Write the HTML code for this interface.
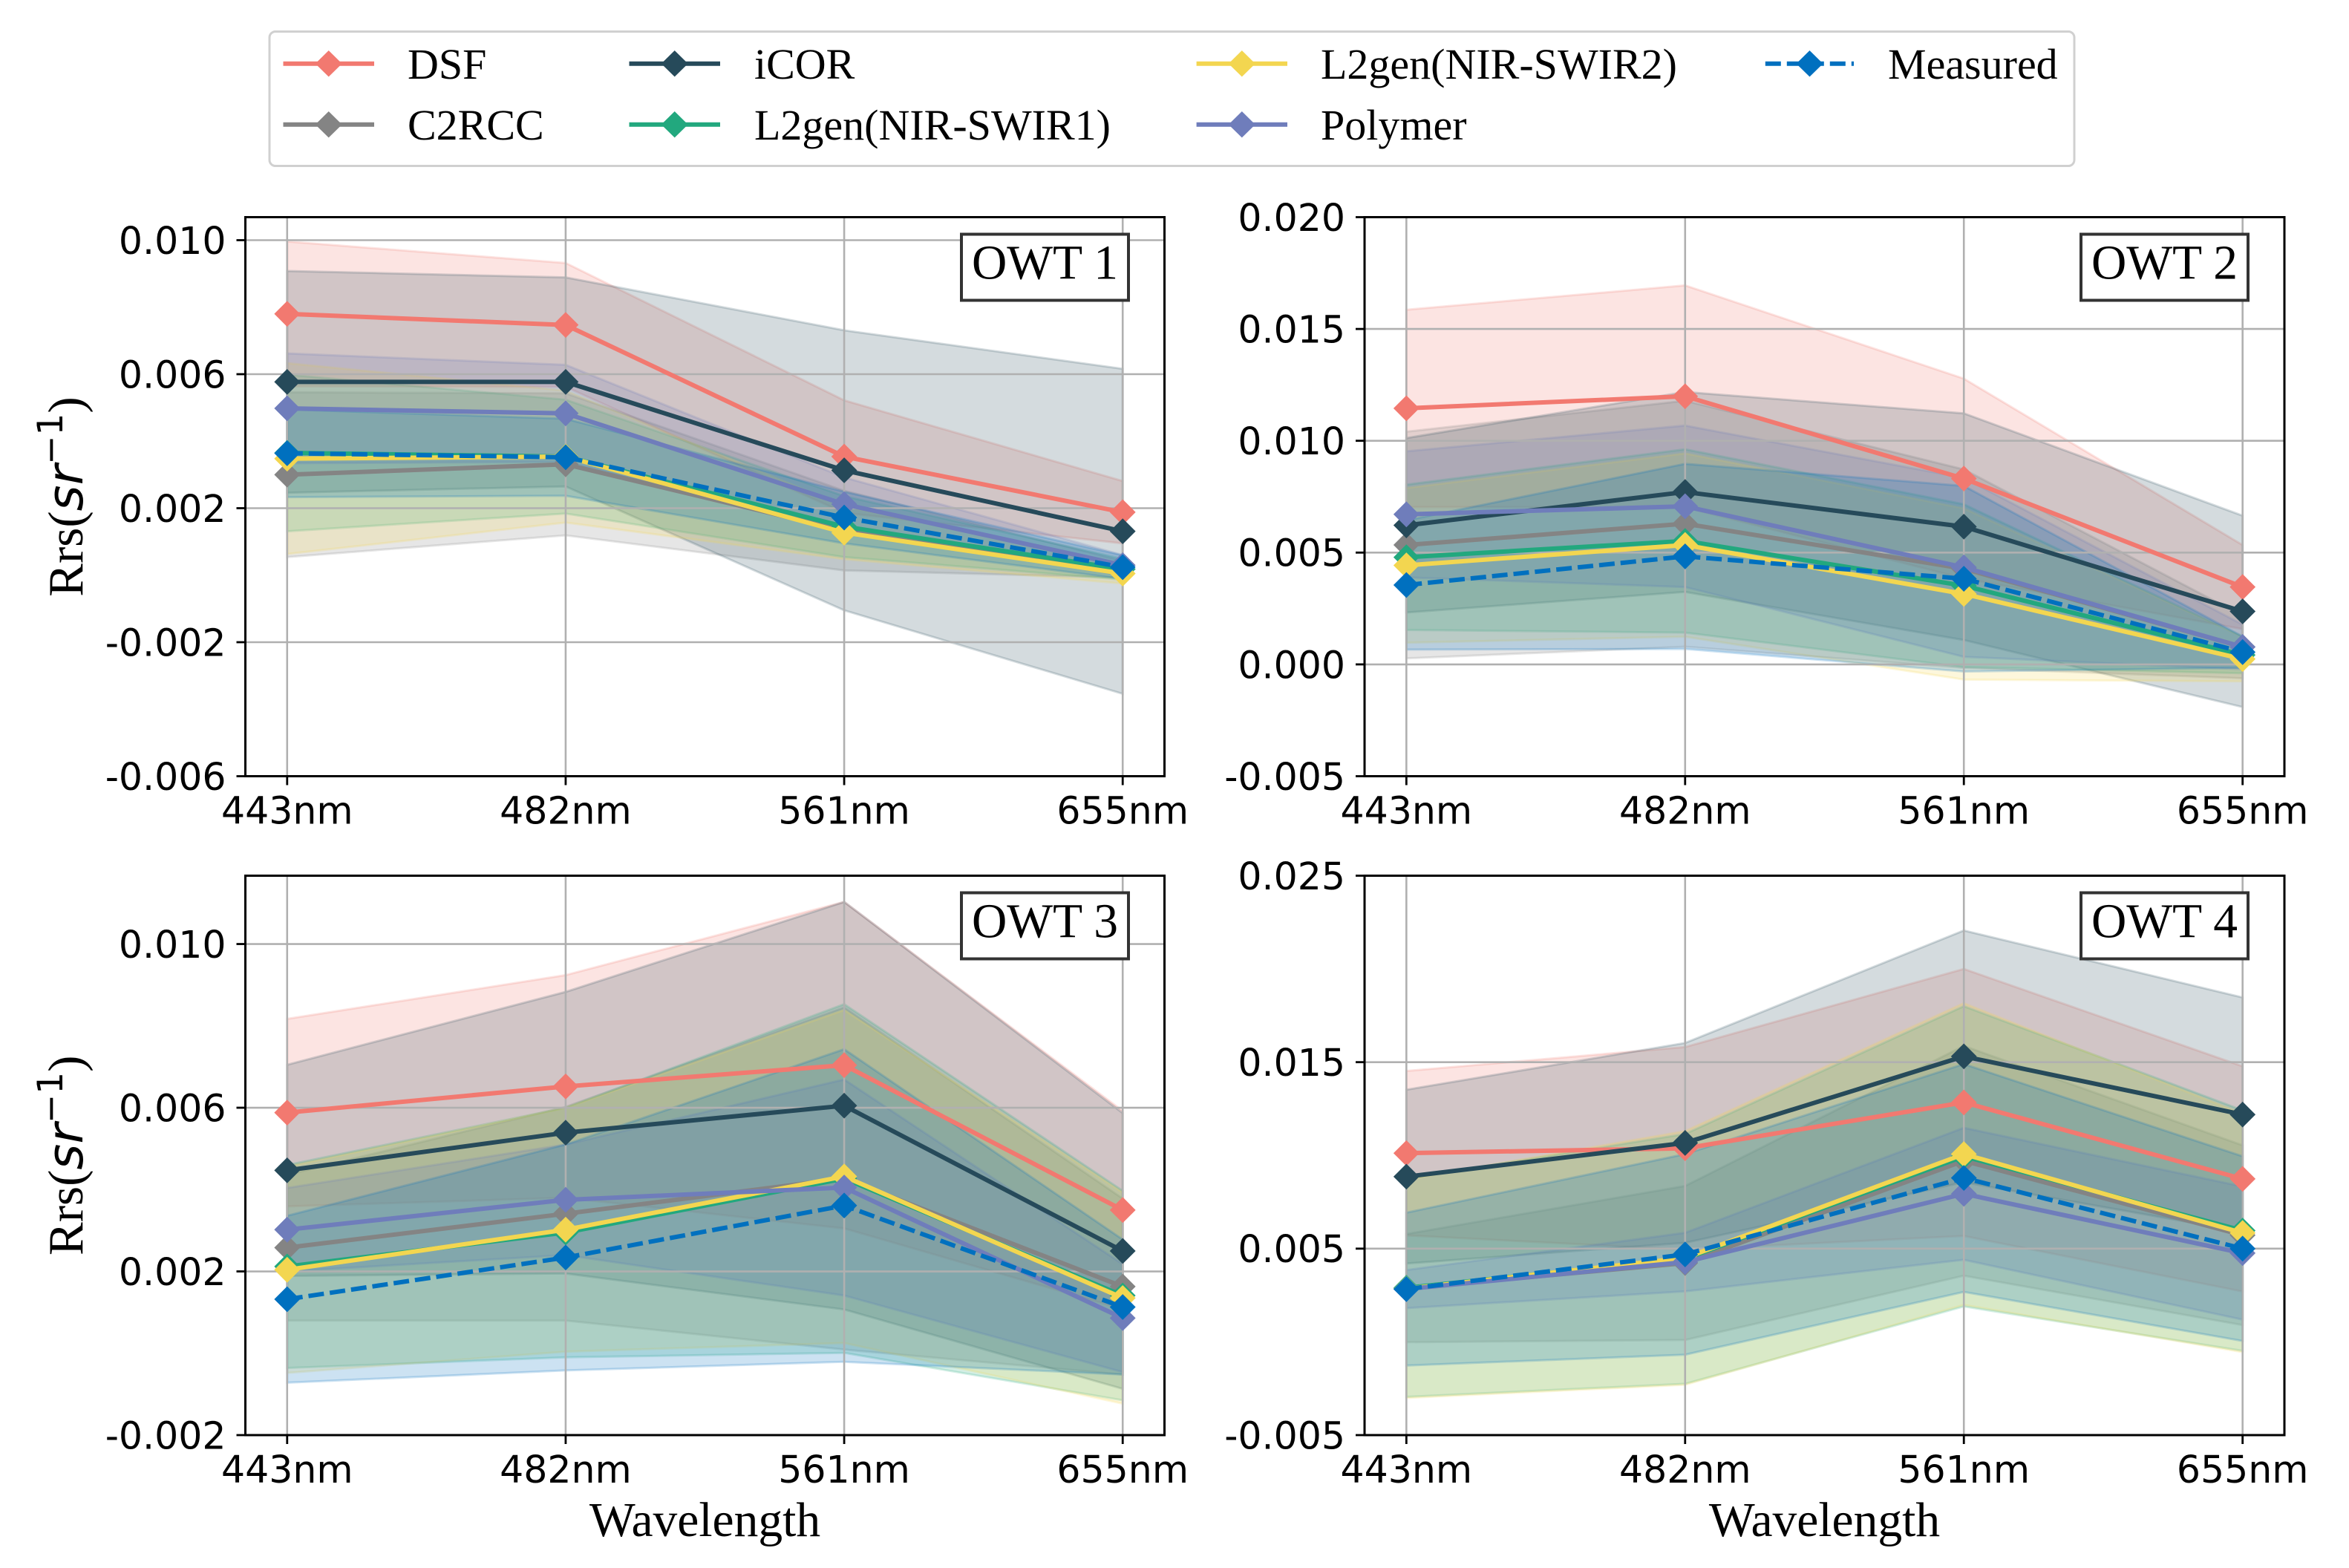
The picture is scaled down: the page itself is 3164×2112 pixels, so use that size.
<!DOCTYPE html>
<html lang="en">
<head>
<meta charset="utf-8">
<title>Rrs spectra by optical water type</title>
<style>
html,body{margin:0;padding:0;background:#fff;width:3164px;height:2112px;overflow:hidden}
svg{display:block}
.serif{font-family:"Liberation Serif",serif}
.sans{font-family:"DejaVu Sans",sans-serif}
</style>
</head>
<body>
<svg id="chart" xmlns="http://www.w3.org/2000/svg" width="3164" height="2112" viewBox="0 0 3164 2112">
  <rect x="0" y="0" width="3164" height="2112" fill="#fff"/>
  <g id="panels"></g>
  <g>
    <rect x="363" y="42.5" width="2431" height="181" rx="8" ry="8" fill="#fff" stroke="#d0d0d0" stroke-width="3"/>
    <g>
      <line x1="381.5" x2="504" y1="85.7" y2="85.7" stroke="#F27970" stroke-width="6"/>
      <polygon points="442.7,68 460.7,85.7 442.7,103.4 424.7,85.7" fill="#F27970"/>
      <text class="serif" x="549" y="106" font-size="58">DSF</text>
    </g>
    <g>
      <line x1="381.5" x2="504" y1="167.7" y2="167.7" stroke="#848484" stroke-width="6"/>
      <polygon points="442.7,150 460.7,167.7 442.7,185.4 424.7,167.7" fill="#848484"/>
      <text class="serif" x="549" y="188" font-size="58">C2RCC</text>
    </g>
    <g>
      <line x1="847.5" x2="970" y1="85.7" y2="85.7" stroke="#264A5A" stroke-width="6"/>
      <polygon points="908.7,68 926.7,85.7 908.7,103.4 890.7,85.7" fill="#264A5A"/>
      <text class="serif" x="1016" y="106" font-size="58">iCOR</text>
    </g>
    <g>
      <line x1="847.5" x2="970" y1="167.7" y2="167.7" stroke="#22A87E" stroke-width="6"/>
      <polygon points="908.7,150 926.7,167.7 908.7,185.4 890.7,167.7" fill="#22A87E"/>
      <text class="serif" x="1016" y="188" font-size="58">L2gen(NIR-SWIR1)</text>
    </g>
    <g>
      <line x1="1611.6" x2="1734" y1="85.7" y2="85.7" stroke="#F3D650" stroke-width="6"/>
      <polygon points="1672.8,68 1690.8,85.7 1672.8,103.4 1654.8,85.7" fill="#F3D650"/>
      <text class="serif" x="1779" y="106" font-size="58">L2gen(NIR-SWIR2)</text>
    </g>
    <g>
      <line x1="1611.6" x2="1734" y1="167.7" y2="167.7" stroke="#6F7DBB" stroke-width="6"/>
      <polygon points="1672.8,150 1690.8,167.7 1672.8,185.4 1654.8,167.7" fill="#6F7DBB"/>
      <text class="serif" x="1779" y="188" font-size="58">Polymer</text>
    </g>
    <g>
      <line x1="2377.8" x2="2497" y1="85.7" y2="85.7" stroke="#0070BF" stroke-width="6" stroke-dasharray="21 8"/>
      <polygon points="2437.5,68 2455.5,85.7 2437.5,103.4 2419.5,85.7" fill="#0070BF"/>
      <text class="serif" x="2543" y="106" font-size="58">Measured</text>
    </g>
  </g>
</svg>
<script>
// ---- shared categories and series names ----
const categories = ["443nm", "482nm", "561nm", "655nm"];
const seriesKeys = ["dsf", "c2rcc", "icor", "l2gen-nir-swir1", "l2gen-nir-swir2", "polymer", "measured"];
const seriesColors = ["#F27970", "#848484", "#264A5A", "#22A87E", "#F3D650", "#6F7DBB", "#0070BF"];

// ---- OWT 1 ----
const owt1Ticks = ["-0.006", "-0.002", "0.002", "0.006", "0.010"];
const owt1Range = [-0.006, 0.010687];
const owt1Dsf = [0.0078, 0.00747, 0.00354, 0.00188];
const owt1DsfStd = [0.00216, 0.00185, 0.00168, 0.00093];
const owt1C2rcc = [0.003, 0.00331, 0.00133, 0.00018];
const owt1C2rccStd = [0.00246, 0.00212, 0.00119, 0.00025];
const owt1Icor = [0.00577, 0.00577, 0.00313, 0.00131];
const owt1IcorStd = [0.00331, 0.00312, 0.00418, 0.00485];
const owt1Swir1 = [0.00365, 0.00354, 0.00145, 0.00018];
const owt1Swir1Std = [0.00234, 0.0017, 0.00091, 0.00031];
const owt1Swir2 = [0.00348, 0.00354, 0.00127, 0.00005];
const owt1Swir2Std = [0.00285, 0.00197, 0.00079, 0.0003];
const owt1Polymer = [0.00498, 0.00483, 0.00212, 0.0003];
const owt1PolymerStd = [0.00164, 0.00145, 0.0008, 0.0003];
const owt1Measured = [0.00364, 0.00352, 0.00172, 0.00024];
const owt1MeasuredStd = [0.00131, 0.00115, 0.00077, 0.00035];

// ---- OWT 2 ----
const owt2Ticks = ["-0.005", "0.000", "0.005", "0.010", "0.015", "0.020"];
const owt2Range = [-0.005, 0.020];
const owt2Dsf = [0.01145, 0.01199, 0.00831, 0.00346];
const owt2DsfStd = [0.00441, 0.00496, 0.00447, 0.00188];
const owt2C2rcc = [0.00534, 0.00629, 0.00428, 0.00078];
const owt2C2rccStd = [0.00507, 0.0055, 0.00444, 0.0014];
const owt2Icor = [0.00622, 0.00771, 0.00616, 0.00237];
const owt2IcorStd = [0.0039, 0.00447, 0.00507, 0.00428];
const owt2Swir1 = [0.00479, 0.00552, 0.00352, 0.00042];
const owt2Swir1Std = [0.00325, 0.0041, 0.00364, 0.00082];
const owt2Swir2 = [0.00443, 0.00534, 0.00315, 0.00024];
const owt2Swir2Std = [0.00346, 0.0041, 0.00383, 0.001];
const owt2Polymer = [0.00671, 0.00707, 0.00434, 0.00078];
const owt2PolymerStd = [0.00282, 0.00361, 0.004, 0.001];
const owt2Measured = [0.00355, 0.00483, 0.00383, 0.00055];
const owt2MeasuredStd = [0.00289, 0.00414, 0.00415, 0.0007];

// ---- OWT 3 ----
const owt3Ticks = ["-0.002", "0.002", "0.006", "0.010"];
const owt3Range = [-0.002, 0.01167];
const owt3Dsf = [0.00588, 0.00652, 0.00704, 0.0035];
const owt3DsfStd = [0.00229, 0.00272, 0.00399, 0.00242];
const owt3C2rcc = [0.00258, 0.00341, 0.00427, 0.00163];
const owt3C2rccStd = [0.00178, 0.00261, 0.00418, 0.00215];
const owt3Icor = [0.00447, 0.00539, 0.00605, 0.0025];
const owt3IcorStd = [0.00258, 0.00344, 0.00498, 0.00337];
const owt3Swir1 = [0.00212, 0.00295, 0.00427, 0.00141];
const owt3Swir1Std = [0.00248, 0.00305, 0.00426, 0.00256];
const owt3Swir2 = [0.00204, 0.00302, 0.00432, 0.00135];
const owt3Swir2Std = [0.00252, 0.00298, 0.00407, 0.00258];
const owt3Polymer = [0.00302, 0.00375, 0.00405, 0.00086];
const owt3PolymerStd = [0.00102, 0.00135, 0.00264, 0.00132];
const owt3Measured = [0.00132, 0.00234, 0.00361, 0.00113];
const owt3MeasuredStd = [0.00204, 0.00276, 0.00382, 0.00165];

// ---- OWT 4 ----
const owt4Ticks = ["-0.005", "0.005", "0.015", "0.025"];
const owt4Range = [-0.005, 0.025];
const owt4Dsf = [0.01012, 0.01038, 0.01284, 0.00874];
const owt4DsfStd = [0.00441, 0.00543, 0.00716, 0.00604];
const owt4C2rcc = [0.00288, 0.00423, 0.00971, 0.00572];
const owt4C2rccStd = [0.0029, 0.00413, 0.00616, 0.00482];
const owt4Icor = [0.00886, 0.01067, 0.01531, 0.01219];
const owt4IcorStd = [0.00466, 0.00536, 0.00675, 0.00628];
const owt4Swir1 = [0.0029, 0.00445, 0.00995, 0.00597];
const owt4Swir1Std = [0.00585, 0.0067, 0.00805, 0.00645];
const owt4Swir2 = [0.00285, 0.0045, 0.01007, 0.00584];
const owt4Swir2Std = [0.00586, 0.0068, 0.00809, 0.00639];
const owt4Polymer = [0.00283, 0.00428, 0.00794, 0.00476];
const owt4PolymerStd = [0.00102, 0.00157, 0.00354, 0.00357];
const owt4Measured = [0.00283, 0.00469, 0.00879, 0.005];
const owt4MeasuredStd = [0.0041, 0.00538, 0.00611, 0.00495];

const NS = "http://www.w3.org/2000/svg";
function mk(tag, attrs, parent) {
  const el = document.createElementNS(NS, tag);
  for (const k in attrs) el.setAttribute(k, attrs[k]);
  parent.appendChild(el);
  return el;
}

function drawPanel(cfg) {
  const root = document.getElementById("panels");
  const g = mk("g", {}, root);
  
  

  const xScale = i => cfg.left + (i + 0.15) / 3.3 * (cfg.right - cfg.left);
  const yScale = v => cfg.bottom - (v - cfg.range[0]) / (cfg.range[1] - cfg.range[0]) * (cfg.bottom - cfg.top);

  // shaded mean +/- std bands
  cfg.means.forEach((mean, s) => {
    const std = cfg.stds[s];
    const upper = mean.map((m, i) => xScale(i).toFixed(1) + "," + yScale(m + std[i]).toFixed(1));
    const lower = mean.map((m, i) => xScale(i).toFixed(1) + "," + yScale(m - std[i]).toFixed(1)).reverse();
    const band = mk("polygon", {
      points: upper.concat(lower).join(" "),
      fill: seriesColors[s], "fill-opacity": 0.2,
      stroke: seriesColors[s], "stroke-opacity": 0.2, "stroke-width": 3
    }, g);
    
    
  });

  // grid and ticks
  categories.forEach((cat, i) => {
    const x = xScale(i);
    const grid = mk("line", { x1: x, x2: x, y1: cfg.top, y2: cfg.bottom, stroke: "#b0b0b0", "stroke-width": 2.6 }, g);
    
    
    const tick = mk("line", { x1: x, x2: x, y1: cfg.bottom, y2: cfg.bottom + 12, stroke: "#000", "stroke-width": 2.8 }, g);
    
    
    const label = mk("text", { x: x, y: cfg.bottom + 64, "text-anchor": "middle", "font-size": 50.5, class: "sans" }, g);
    
    
    label.textContent = cat;
  });
  cfg.ticks.forEach(t => {
    const y = yScale(Number(t));
    const grid = mk("line", { x1: cfg.left, x2: cfg.right, y1: y, y2: y, stroke: "#b0b0b0", "stroke-width": 2.6 }, g);
    
    
    const tick = mk("line", { x1: cfg.left - 12, x2: cfg.left, y1: y, y2: y, stroke: "#000", "stroke-width": 2.8 }, g);
    
    
    const label = mk("text", { x: cfg.left - 26, y: y + 18.4, "text-anchor": "end", "font-size": 50.5, class: "sans" }, g);
    
    
    label.textContent = t;
  });

  // mean lines with diamond markers
  cfg.means.forEach((mean, s) => {
    const pts = mean.map((m, i) => xScale(i).toFixed(1) + "," + yScale(m).toFixed(1)).join(" ");
    const line = mk("polyline", {
      points: pts, fill: "none", stroke: seriesColors[s], "stroke-width": 6,
      "stroke-linejoin": "round"
    }, g);
    if (seriesKeys[s] === "measured") line.setAttribute("stroke-dasharray", "21 8");
    
    
    mean.forEach((m, i) => {
      const x = xScale(i), y = yScale(m);
      const d = mk("polygon", {
        points: [x + "," + (y - 17.4), (x + 17.4) + "," + y, x + "," + (y + 17.4), (x - 17.4) + "," + y].join(" "),
        fill: seriesColors[s]
      }, g);
      
      
    });
  });

  // axes frame
  const frame = mk("rect", {
    x: cfg.left, y: cfg.top, width: cfg.right - cfg.left, height: cfg.bottom - cfg.top,
    fill: "none", stroke: "#000", "stroke-width": 3
  }, g);
  
  

  // OWT tag
  const box = mk("rect", {
    x: cfg.boxX, y: cfg.top + 23, width: 225,
    height: 89, fill: "#fff", stroke: "#333", "stroke-width": 4
  }, g);
  
  
  const tag = mk("text", {
    x: cfg.boxX + 112.5, y: cfg.top + 83, "text-anchor": "middle", "font-size": 65.5, class: "serif"
  }, g);
  
  
  tag.textContent = cfg.title;

  // x-axis title (bottom row)
  if (cfg.bottomRow) {
    const xt = mk("text", {
      x: (cfg.left + cfg.right) / 2, y: 2069, "text-anchor": "middle", "font-size": 65.5, class: "serif"
    }, g);
    
    
    xt.textContent = "Wavelength";
  }

  // y-axis title (left column)
  if (cfg.yTitle) {
    const yc = (cfg.top + cfg.bottom) / 2;
    const yt = mk("text", {
      transform: "translate(111 " + yc + ") rotate(-90)", "text-anchor": "middle", "font-size": 67, class: "serif"
    }, g);
    
    
    const a = mk("tspan", {}, yt); a.textContent = "Rrs(";
    const b = mk("tspan", { "font-family": "DejaVu Sans, sans-serif", "font-style": "italic" }, yt); b.textContent = "sr";
    const c = mk("tspan", { "font-family": "DejaVu Sans, sans-serif", "font-size": 47, dy: -27 }, yt); c.textContent = "\u22121";
    const e = mk("tspan", { dy: 27 }, yt); e.textContent = ")";
  }
}

drawPanel({ id: "owt-1", title: "OWT 1", left: 330.5, right: 1568.5, top: 292.5, bottom: 1045.5, boxX: 1295, bottomRow: false, yTitle: true,
  range: owt1Range, ticks: owt1Ticks,
  means: [owt1Dsf, owt1C2rcc, owt1Icor, owt1Swir1, owt1Swir2, owt1Polymer, owt1Measured],
  stds: [owt1DsfStd, owt1C2rccStd, owt1IcorStd, owt1Swir1Std, owt1Swir2Std, owt1PolymerStd, owt1MeasuredStd] });
drawPanel({ id: "owt-2", title: "OWT 2", left: 1838, right: 3077, top: 292.5, bottom: 1045.5, boxX: 2803, bottomRow: false, yTitle: false,
  range: owt2Range, ticks: owt2Ticks,
  means: [owt2Dsf, owt2C2rcc, owt2Icor, owt2Swir1, owt2Swir2, owt2Polymer, owt2Measured],
  stds: [owt2DsfStd, owt2C2rccStd, owt2IcorStd, owt2Swir1Std, owt2Swir2Std, owt2PolymerStd, owt2MeasuredStd] });
drawPanel({ id: "owt-3", title: "OWT 3", left: 330.5, right: 1568.5, top: 1179.5, bottom: 1933, boxX: 1295, bottomRow: true, yTitle: true,
  range: owt3Range, ticks: owt3Ticks,
  means: [owt3Dsf, owt3C2rcc, owt3Icor, owt3Swir1, owt3Swir2, owt3Polymer, owt3Measured],
  stds: [owt3DsfStd, owt3C2rccStd, owt3IcorStd, owt3Swir1Std, owt3Swir2Std, owt3PolymerStd, owt3MeasuredStd] });
drawPanel({ id: "owt-4", title: "OWT 4", left: 1838, right: 3077, top: 1179.5, bottom: 1933, boxX: 2803, bottomRow: true, yTitle: false,
  range: owt4Range, ticks: owt4Ticks,
  means: [owt4Dsf, owt4C2rcc, owt4Icor, owt4Swir1, owt4Swir2, owt4Polymer, owt4Measured],
  stds: [owt4DsfStd, owt4C2rccStd, owt4IcorStd, owt4Swir1Std, owt4Swir2Std, owt4PolymerStd, owt4MeasuredStd] });
</script>
</body>
</html>
